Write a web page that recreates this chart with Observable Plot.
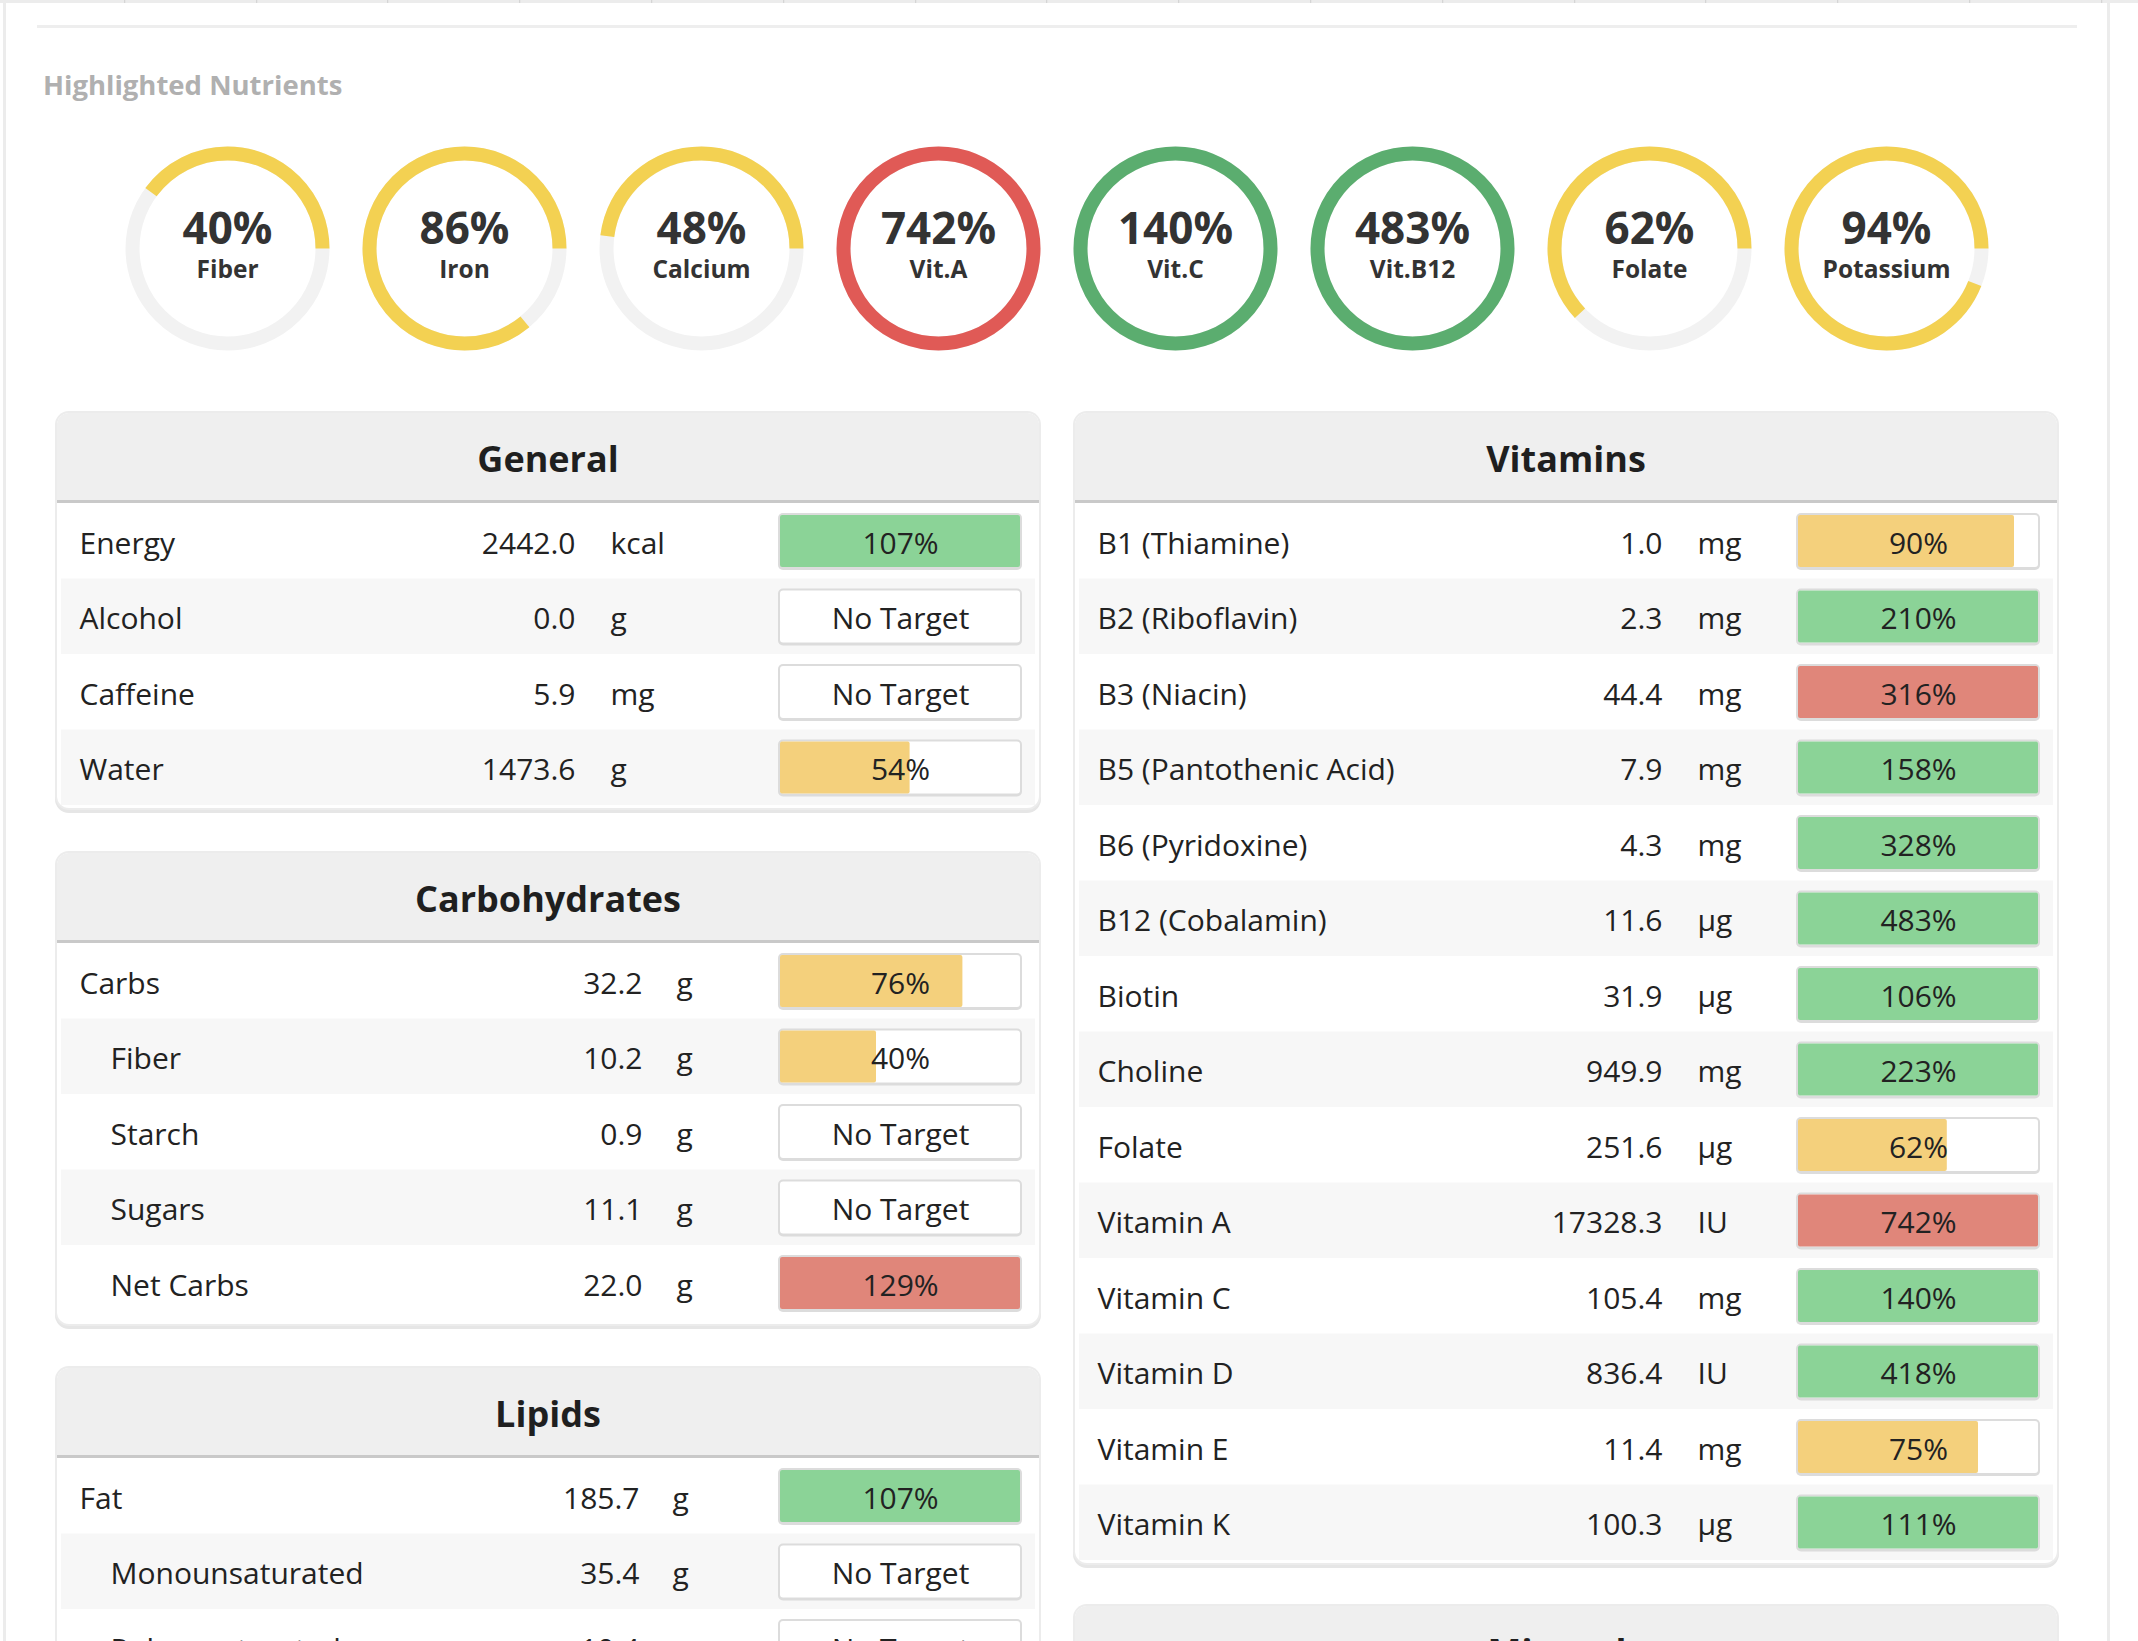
<!DOCTYPE html>
<html><head><meta charset="utf-8">
<script src="https://cdn.jsdelivr.net/npm/d3@7"></script>
<script src="https://cdn.jsdelivr.net/npm/@observablehq/plot@0.6"></script>
<style>
html,body{margin:0;padding:0;background:#fff;}
body{width:2138px;height:1641px;overflow:hidden;position:relative;font-family:"Open Sans",sans-serif;}
.topbar{position:absolute;left:0;top:0;width:2138px;height:3px;background-color:#ececec;
  background-image:repeating-linear-gradient(to right, transparent 0 130.8px, #cfcfcf 130.8px 131.8px);background-position:-6.8px 0;}
.vline{position:absolute;top:0;width:3px;height:1641px;background:#ececec;}
.hrule{position:absolute;left:37px;top:25px;width:2040px;height:3px;background:#eeeeee;}
.title{position:absolute;left:43px;top:71px;font:700 27.5px/27.5px "Open Sans",sans-serif;color:#b0b0b0;white-space:nowrap;}
.abs{position:absolute;}
.panel{position:absolute;width:982px;background:#fff;border-radius:12px;overflow:hidden;
  box-shadow:0 0 0 2px #ececec, 0 3px 0 2px #e6e6e6;}
.hdr{height:90px;box-sizing:border-box;padding-top:5px;line-height:81px;background:#efefef;border-bottom:3px solid #c9c9c9;
  text-align:center;font-weight:700;font-size:36px;color:#1f1f1f;}
.panel svg{display:block;}
</style></head><body>
<div class="topbar"></div>
<div class="vline" style="left:3px"></div>
<div class="vline" style="left:2107px"></div>
<div class="hrule"></div>
<div class="title">Highlighted Nutrients</div>
<div id="rings" class="abs" style="left:0;top:128px"></div>
<div id="panels"></div>
<script>
// ---- Highlighted nutrient rings ----
const ringNames = ["Fiber", "Iron", "Calcium", "Vit.A", "Vit.C", "Vit.B12", "Folate", "Potassium"];
const ringPct   = [40, 86, 48, 742, 140, 483, 62, 94];

// ---- Nutrients exceeding their maximum ----
const overMax = ["Vit.A", "Net Carbs", "B3 (Niacin)", "Vitamin A"];

// ---- General ----
const generalNames  = ["Energy", "Alcohol", "Caffeine", "Water"];
const generalValues = [2442.0, 0.0, 5.9, 1473.6];
const generalUnits  = ["kcal", "g", "mg", "g"];
const generalPct    = [107, null, null, 54];

// ---- Carbohydrates ----
const carbNames  = ["Carbs", "Fiber", "Starch", "Sugars", "Net Carbs"];
const carbValues = [32.2, 10.2, 0.9, 11.1, 22.0];
const carbUnits  = ["g", "g", "g", "g", "g"];
const carbPct    = [76, 40, null, null, 129];
const carbLevel  = [0, 1, 1, 1, 1];

// ---- Lipids ----
const lipidNames  = ["Fat", "Monounsaturated", "Polyunsaturated"];
const lipidValues = [185.7, 35.4, 10.4];
const lipidUnits  = ["g", "g", "g"];
const lipidPct    = [107, null, null];
const lipidLevel  = [0, 1, 1];

// ---- Vitamins ----
const vitNames  = ["B1 (Thiamine)", "B2 (Riboflavin)", "B3 (Niacin)", "B5 (Pantothenic Acid)", "B6 (Pyridoxine)",
  "B12 (Cobalamin)", "Biotin", "Choline", "Folate", "Vitamin A", "Vitamin C", "Vitamin D", "Vitamin E", "Vitamin K"];
const vitValues = [1.0, 2.3, 44.4, 7.9, 4.3, 11.6, 31.9, 949.9, 251.6, 17328.3, 105.4, 836.4, 11.4, 100.3];
const vitUnits  = ["mg", "mg", "mg", "mg", "mg", "µg", "µg", "mg", "µg", "IU", "mg", "IU", "mg", "µg"];
const vitPct    = [90, 210, 316, 158, 328, 483, 106, 223, 62, 742, 140, 418, 75, 111];

// ---------------------------------------------------------------
const FONT = '"Open Sans", sans-serif';
const statusOf = (name, p) => p == null ? null : (p < 100 ? "low" : (overMax.includes(name) ? "high" : "met"));
const fmt = d3.format(".1f");

// Rings
{
  const rings = ringNames.map((name, i) => ({name, pct: ringPct[i], status: statusOf(name, ringPct[i])}));
  const R = 95, C = 2 * Math.PI * R;
  const arcs = rings.map(d => {
    const L = Math.min(d.pct, 100) / 100 * C;
    const dash = d.pct < 100 ? {strokeDasharray: `${L} ${C}`, strokeDashoffset: 2 * L} : {};
    return Plot.dot([d], {x: "name", r: R, stroke: "status", strokeWidth: 14, fill: "none", ...dash});
  });
  const svg = Plot.plot({
    width: 2138, height: 240, margin: 0,
    x: {type: "point", domain: ringNames, range: [227, 1886], padding: 0, round: false, axis: null},
    color: {domain: ["low", "met", "high"], range: ["#f3d152", "#5bad6f", "#e05a56"]},
    style: {background: "transparent", fontFamily: FONT, overflow: "visible"},
    marks: [
      Plot.dot(rings, {x: "name", r: R, stroke: "#f2f2f2", strokeWidth: 14, fill: "#fff"}),
      ...arcs,
      Plot.text(rings, {x: "name", text: d => `${d.pct}%`, fontSize: 44, fontWeight: 700, fill: "#333", dy: -19, fontFamily: FONT}),
      Plot.text(rings, {x: "name", text: "name", fontSize: 24.5, fontWeight: 700, fill: "#333", dy: 21.5, fontFamily: FONT})
    ]
  });
  document.getElementById("rings").appendChild(svg);
}

// Tables
const ROW = 75.5;
function tablePlot(names, values, units, pcts, levels, valueRight, unitLeft) {
  const rows = names.map((name, i) => ({
    name, value: values[i], unit: units[i], pct: pcts[i],
    level: levels ? levels[i] : 0, stripe: i % 2 === 1, status: statusOf(name, pcts[i])
  }));
  const H = rows.length * ROW;
  const txt = {y: "name", fontSize: 30, fill: "#222", dy: 3, fontFamily: FONT};
  return Plot.plot({
    width: 982, height: H, marginTop: 0, marginBottom: 0, marginLeft: 4, marginRight: 4,
    x: {domain: [0, 100], range: [723, 963], axis: null},
    y: {domain: names, range: [0, H], padding: 0, round: false, axis: null},
    color: {domain: ["low", "met", "high"], range: ["#f4d07c", "#8bd397", "#e0867a"]},
    style: {background: "transparent", fontFamily: FONT, overflow: "visible"},
    marks: [
      Plot.cell(rows.filter(d => d.stripe), {y: "name", fill: "#f7f7f7"}),
      Plot.barX(rows, {y: "name", x1: 0, x2: 100, fill: "#dcdcdc", rx: 5, insetTop: 10, insetBottom: 8.5, insetLeft: -2, insetRight: -2}),
      Plot.barX(rows, {y: "name", x1: 0, x2: 100, fill: "#fff", rx: 3, insetTop: 12, insetBottom: 11.5}),
      Plot.barX(rows.filter(d => d.pct != null), {y: "name", x1: 0, x2: d => Math.min(d.pct, 100), fill: "status", rx: 2, insetTop: 12, insetBottom: 11.5}),
      Plot.text(rows, {...txt, x: 50, text: d => d.pct == null ? "No Target" : `${d.pct}%`}),
      Plot.text(rows.filter(d => d.level === 0), {...txt, text: "name", frameAnchor: "left", textAnchor: "start", dx: 18}),
      Plot.text(rows.filter(d => d.level === 1), {...txt, text: "name", frameAnchor: "left", textAnchor: "start", dx: 49}),
      Plot.text(rows, {...txt, text: d => fmt(d.value), frameAnchor: "left", textAnchor: "end", dx: valueRight - 4}),
      Plot.text(rows, {...txt, text: "unit", frameAnchor: "left", textAnchor: "start", dx: unitLeft - 4})
    ]
  });
}

const panels = [
  {title: "General", left: 57, top: 413, plot: () => tablePlot(generalNames, generalValues, generalUnits, generalPct, null, 518, 553), n: generalNames.length},
  {title: "Carbohydrates", left: 57, top: 853, plot: () => tablePlot(carbNames, carbValues, carbUnits, carbPct, carbLevel, 585, 619), n: carbNames.length},
  {title: "Lipids", left: 57, top: 1368, plot: () => tablePlot(lipidNames, lipidValues, lipidUnits, lipidPct, lipidLevel, 582, 615), n: lipidNames.length},
  {title: "Vitamins", left: 1075, top: 413, plot: () => tablePlot(vitNames, vitValues, vitUnits, vitPct, null, 587, 622), n: vitNames.length},
  {title: "Minerals", left: 1075, top: 1606, plot: null, n: 0}
];
const host = document.getElementById("panels");
for (const p of panels) {
  const div = document.createElement("div");
  div.className = "panel";
  div.style.left = p.left + "px";
  div.style.top = p.top + "px";
  div.style.height = (90 + p.n * ROW + 3) + "px";
  if (!p.plot) div.style.height = "200px";
  const hdr = document.createElement("div");
  hdr.className = "hdr";
  hdr.textContent = p.title;
  div.appendChild(hdr);
  if (p.plot) div.appendChild(p.plot());
  host.appendChild(div);
}
</script>
</body></html>
